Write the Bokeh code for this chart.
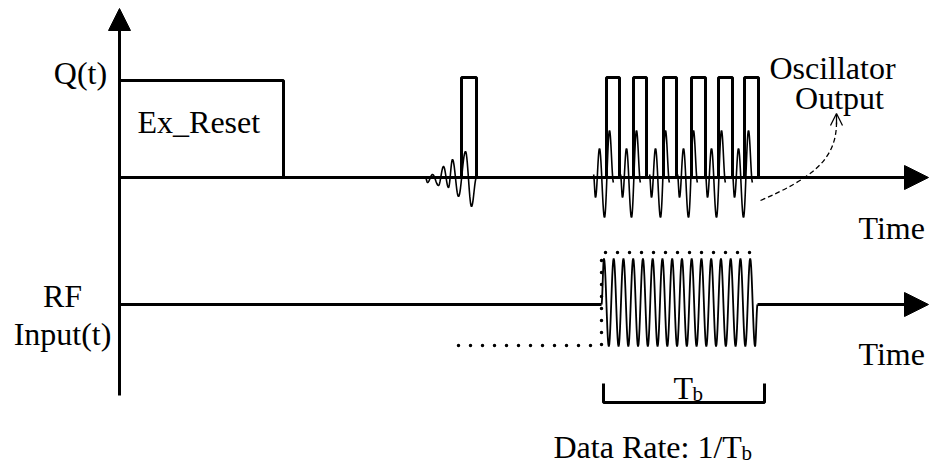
import numpy as np
from bokeh.plotting import figure
from bokeh.models import Range1d, Arrow, NormalHead, OpenHead
from bokeh.core.properties import value
from bokeh.embed import file_html
from bokeh.resources import INLINE

# ---------------- schematic data (page pixel units) ----------------
axis_x = 119
axis_top = 8
axis_bottom = 395
q_base = 177
rf_base = 304
arrow_tip_x = 928

# Ex_Reset pulse
reset_left = [119]
reset_right = [283]
reset_top = [80]

# Q(t) pulses: one lone pulse then six oscillator pulses
pulse_left = [461, 606, 633, 663, 691, 718, 744]
pulse_right = [476, 619, 646, 676, 705, 732, 758]
pulse_top = [77, 77, 77, 77, 77, 77, 77]

# ringing before the lone pulse: extrema x and amplitude (up = +)
ring_x = [425, 427, 432, 438, 443, 448, 452, 458, 465, 471, 476]
ring_amp = [0, -5, 3, -8, 11, -10, 18, -19, 26, -29, 0]

# oscillator output bursts (one per pulse)
osc_start = [593, 620, 649, 677, 705, 732]
osc_dx = [0, 2, 6, 11, 16, 20]
osc_amp = [3, -20, 29, -40, 47, -5]

# RF input burst
rf_start = 601
rf_end = 757
rf_cycles = 16
rf_amp = 44
rf_center = 302

# dotted envelope
env_x = [458, 601, 601, 761]
env_y = [345, 345, 252, 252]

# Tb bracket
bracket_x = [603, 603, 764, 764]
bracket_y = [383, 402, 402, 383]

# dashed "oscillator output" pointer (cubic bezier)
ptr = dict(x0=[760], y0=[200], cx0=[810], cy0=[178], cx1=[836], cy1=[160], x1=[836], y1=[122])

FONT = value("Liberation Serif")
FS = value("32px")


def smooth(xs, amps, base, n=14):
    X, Y = [], []
    for i in range(len(xs) - 1):
        t = np.linspace(0, 1, n, endpoint=False)
        s = (1 - np.cos(np.pi * t)) / 2
        X.extend(xs[i] + (xs[i + 1] - xs[i]) * t)
        Y.extend(base - (amps[i] + (amps[i + 1] - amps[i]) * s))
    X.append(xs[-1])
    Y.append(base - amps[-1])
    return X, Y


p = figure(width=935, height=466, x_range=Range1d(0, 935), y_range=Range1d(466, 0),
           x_axis_type=None, y_axis_type=None, toolbar_location=None,
           output_backend="svg", min_border=0, outline_line_color=None)
p.grid.visible = False
p.background_fill_color = "white"

LW = 3

# vertical axis with arrow
p.add_layout(Arrow(x_start=axis_x, y_start=axis_bottom, x_end=axis_x, y_end=axis_top,
                   line_width=LW, line_color="black",
                   end=NormalHead(size=22, fill_color="black", line_color="black", line_width=1)))
# Q(t) time axis
p.add_layout(Arrow(x_start=axis_x, y_start=q_base, x_end=arrow_tip_x, y_end=q_base,
                   line_width=LW, line_color="black",
                   end=NormalHead(size=24, fill_color="black", line_color="black", line_width=1)))
# RF time axis (broken by the burst)
p.line([axis_x, rf_start], [rf_base, rf_base], line_width=LW, line_color="black")
p.add_layout(Arrow(x_start=rf_end, y_start=rf_base, x_end=arrow_tip_x, y_end=rf_base,
                   line_width=LW, line_color="black",
                   end=NormalHead(size=24, fill_color="black", line_color="black", line_width=1)))

# Ex_Reset box and pulses
p.quad(left=reset_left, right=reset_right, top=reset_top, bottom=[q_base],
       fill_color=None, line_color="black", line_width=LW)
p.quad(left=pulse_left, right=pulse_right, top=pulse_top, bottom=[q_base] * len(pulse_left),
       fill_color=None, line_color="black", line_width=LW)

# ringing before lone pulse
rx, ry = smooth(ring_x, ring_amp, q_base)
p.line(rx, ry, line_width=1.6, line_color="black")

# oscillator bursts
for g in osc_start:
    gx, gy = smooth([g + d for d in osc_dx], osc_amp, q_base)
    p.line(gx, gy, line_width=1.6, line_color="black")

# RF burst
P = (rf_end - rf_start) / rf_cycles
ext_x = [rf_start] + [rf_start + P / 4 + k * P / 2 for k in range(2 * rf_cycles)] + [rf_end]
ext_a = [rf_center - rf_base] + [rf_amp if k % 2 == 0 else -rf_amp for k in range(2 * rf_cycles)] + [rf_center - rf_base]
bx, by = smooth(ext_x, ext_a, rf_center, n=10)
p.line(bx, by, line_width=1.8, line_color="black")

# dotted envelope
p.line(env_x, env_y, line_width=3.5, line_color="black", line_dash="0 12", line_cap="round")

# bracket
p.line(bracket_x, bracket_y, line_width=LW, line_color="black")

# dashed pointer with open arrow head
p.bezier(**ptr, line_width=1.3, line_color="black", line_dash="5 3")
p.add_layout(Arrow(x_start=836, y_start=124, x_end=836, y_end=113, line_width=1.3, line_color="black",
                   end=OpenHead(size=12, line_width=1.3, line_color="black")))

# texts
p.text(x=[80, 832, 839, 62, 62], y=[72, 67, 97, 295, 333],
       text=["Q(t)", "Oscillator", "Output", "RF", "Input(t)"],
       text_font=FONT, text_font_size=FS, text_align="center",
       text_baseline="alphabetic", text_color="black")
p.text(x=[137, 858, 858, 673, 553], y=[121, 227, 353, 387, 446],
       text=["Ex_Reset", "Time", "Time", "T", "Data Rate: 1/T"],
       text_font=FONT, text_font_size=FS, text_align="left",
       text_baseline="alphabetic", text_color="black")
p.text(x=[692, 741], y=[393, 452], text=["b", "b"],
       text_font=FONT, text_font_size=value("21px"), text_align="left",
       text_baseline="alphabetic", text_color="black")

open("out.html", "w").write(file_html(p, INLINE))
